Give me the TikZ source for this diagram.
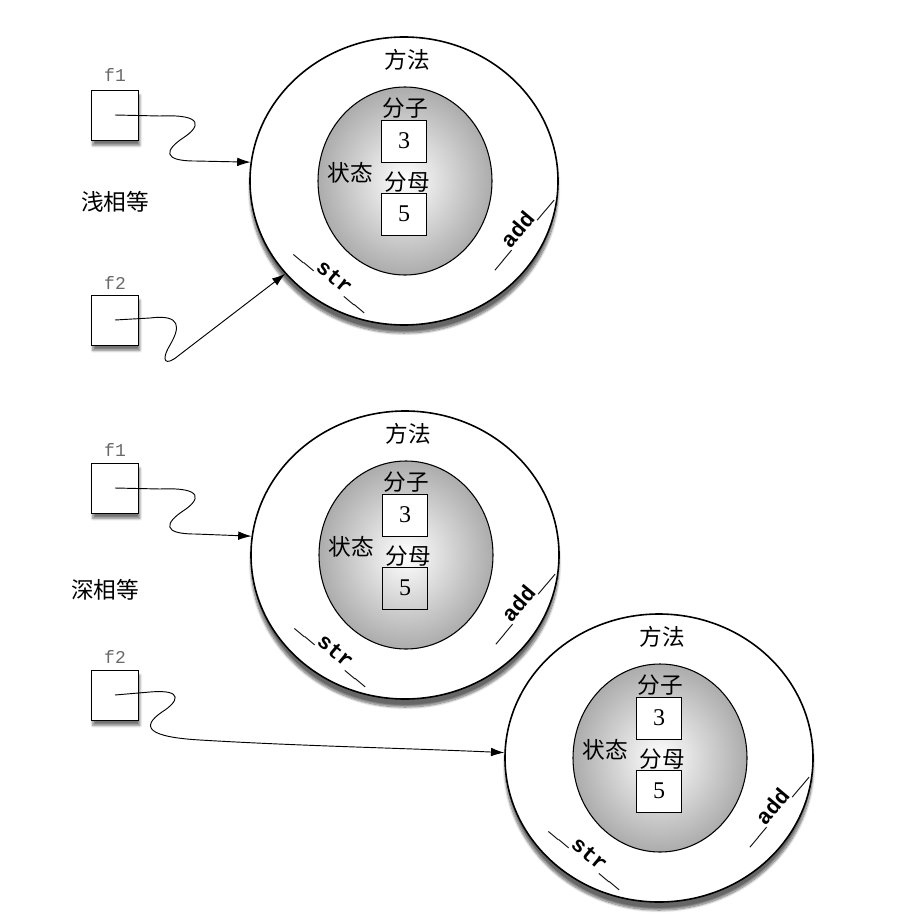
\documentclass[tikz,border=0pt]{standalone}
\usepackage{fontspec}
\setmainfont{Liberation Serif}
\setmonofont{Liberation Mono}
\newfontfamily\cjk{Noto Sans CJK SC}
\usetikzlibrary{shapes.geometric,arrows.meta,shadows.blur}
\definecolor{ballgray}{RGB}{172,172,172}
\definecolor{refgray}{RGB}{105,105,105}

\begin{document}
\begin{tikzpicture}[x=0.75pt, y=-0.75pt,
    objring/.style={ellipse, draw, line width=1.2pt, fill=white, minimum width=231pt, minimum height=216pt, inner sep=0pt,
        blur shadow={shadow xshift=0pt, shadow yshift=-6pt, shadow blur steps=10, shadow opacity=60}},
    stateball/.style={ellipse, draw, line width=0.8pt, minimum width=130.5pt, minimum height=141pt, inner sep=0pt,
        shading=radial, inner color=white, outer color=ballgray},
    valbox/.style={rectangle, draw, line width=0.6pt, minimum width=33.75pt, minimum height=31.5pt, inner sep=0pt,
        font=\fontsize{18}{20}\selectfont},
    refbox/.style={rectangle, draw, line width=0.6pt, fill=white, minimum width=35.25pt, minimum height=37.5pt, inner sep=0pt,
        blur shadow={shadow xshift=1pt, shadow yshift=-4pt, shadow blur steps=6, shadow opacity=55}},
    cjklbl/.style={font=\cjk\fontsize{17}{19}\selectfont, inner sep=0pt},
    methlbl/.style={font=\ttfamily\bfseries\fontsize{16.5}{18}\selectfont, inner sep=0pt},
    reflbl/.style={font=\ttfamily\fontsize{13.5}{15}\selectfont, text=refgray, inner sep=0pt},
    ptr/.style={-{Latex[length=10pt,width=6.5pt]}, line width=0.7pt}]

    \useasboundingbox (0,0) rectangle (902,924);

    % Fraction objects: ring of methods around the state
    \foreach \i/\cx/\cy/\fillb in {1/404/181/white, 2/405/555/none, 3/659/758/white} {
        \begin{scope}[shift={(\cx,\cy)}]
            \node[objring] (obj\i) at (0,0) {};
            \node[stateball] (state\i) at (1,0) {};
            \node[cjklbl] (meth\i) at (3,-121) {方法};
            \node[cjklbl] (numl\i) at (1,-73) {分子};
            \node[valbox, fill=white] (num\i) at (0,-40) {3};
            \node[cjklbl] (statel\i) at (-54,-8) {状态};
            \node[cjklbl] (denl\i) at (3,1) {分母};
            \node[valbox, fill=\fillb] (den\i) at (0,33) {5};
            \node[methlbl, rotate=-40] (str\i) at (-70,97) {\_\_str\_\_};
            \node[methlbl, rotate=50] (add\i) at (114,49) {\_\_add\_\_};
        \end{scope}
    }

    % Shallow equality
    \node[reflbl] (fonelbl) at (115,75) {f1};
    \node[refbox] (fone) at (115,115) {};
    \node[cjklbl] (shallow) at (115,202) {浅相等};
    \node[reflbl] (ftwolbl) at (115,283) {f2};
    \node[refbox] (ftwo) at (115,320) {};

    \draw[ptr] (fone.center) -- (160,116) .. controls (205,114) and (200,127) .. (183,138)
        .. controls (165,150) and (162,161) .. (195,161) -- (obj1.173);
    \draw[ptr] (ftwo.center) -- (150,318) .. controls (182,314) and (180,328) .. (170,345)
        .. controls (160,362) and (166,366) .. (178,356) -- (obj1.218);

    % Deep equality
    \node[reflbl] (fonelblb) at (115,450) {f1};
    \node[refbox] (foneb) at (115,488) {};
    \node[cjklbl] (deep) at (105,590) {深相等};
    \node[reflbl] (ftwolblb) at (115,657) {f2};
    \node[refbox] (ftwob) at (115,695) {};

    \draw[ptr] (foneb.center) -- (160,489) .. controls (205,487) and (200,500) .. (183,511)
        .. controls (165,523) and (162,534) .. (195,534) -- (obj2.173);
    \draw[ptr] (ftwob.center) -- (150,692) .. controls (185,689) and (178,702) .. (162,712)
        .. controls (140,727) and (148,737) .. (200,740) .. controls (300,746) and (400,748) .. (obj3.178);
\end{tikzpicture}
\end{document}
